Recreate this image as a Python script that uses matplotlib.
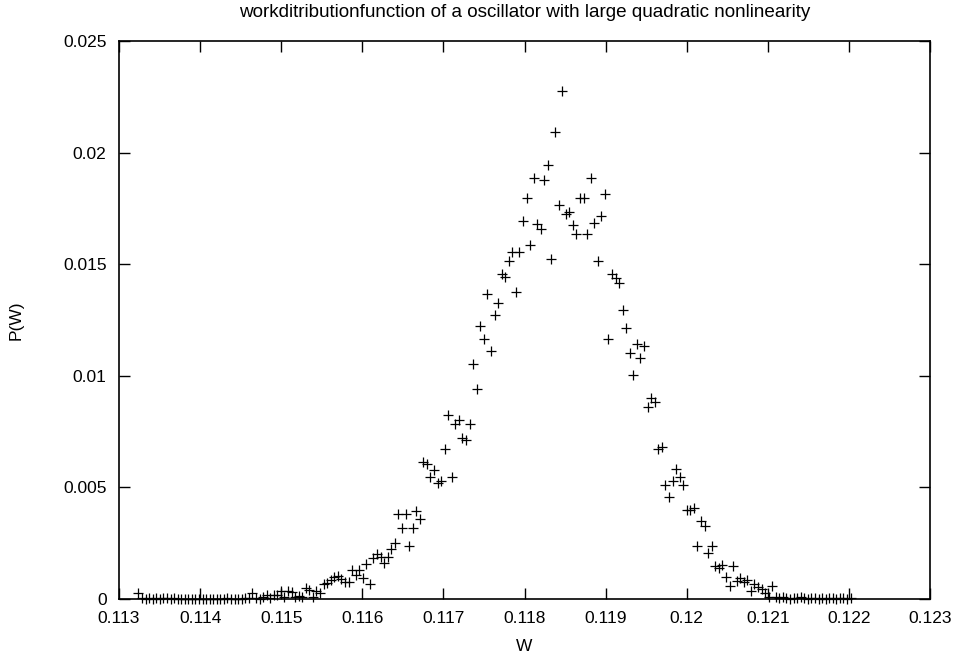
import numpy as np
import matplotlib
matplotlib.use("Agg")
import matplotlib.pyplot as plt
from matplotlib.ticker import MultipleLocator, FuncFormatter

# histogram of the work W: 201 equal bins from w_first to w_last
w_first = 0.11324
w_last = 0.12202
n_bins = 201

# P(W) per bin, left to right
p_left_tail = [0.00028, 0.00004, 0.0, 0.00004, 0.0, 0.00004, 0.0, 0.00004, 0.00004, 0.0,
               0.00004, 0.0, 0.0, 0.0, 0.0, 0.0, 0.0, 0.0, 0.0, 0.0,
               0.0, 0.0, 0.0, 0.0, 0.0, 0.00004, 0.0, 0.0, 0.0, 0.0,
               0.00004, 0.00004, 0.00026, 0.00004, 0.0, 0.00008, 0.0002, 0.00004, 0.0002, 0.0002,
               0.00035, 0.00009, 0.00035, 0.0003, 0.00009, 0.00013, 0.00009, 0.00048, 0.00042, 0.00009,
               0.00035]
p_core = [0.00028, 0.00065, 0.00073, 0.00085, 0.00097, 0.00103, 0.00088, 0.00078, 0.00078, 0.0013,
          0.00108, 0.0013, 0.00093, 0.00157, 0.00067, 0.00182, 0.00202, 0.0019, 0.0016, 0.0019,
          0.00223, 0.00249, 0.00381, 0.00319, 0.00381, 0.00239, 0.00319, 0.00394, 0.00358, 0.00612,
          0.00603, 0.00548, 0.00578, 0.00521, 0.0053, 0.00671, 0.00823, 0.00548, 0.00783, 0.00802,
          0.00723, 0.00712, 0.00783, 0.01052, 0.00942, 0.01223, 0.01164, 0.01365, 0.01113, 0.01272,
          0.01325, 0.01456, 0.01441, 0.01514, 0.01556, 0.01374, 0.01556, 0.01695, 0.01795, 0.01586,
          0.01885, 0.0168, 0.01656, 0.01877, 0.01944, 0.01523, 0.02094, 0.01765, 0.02276, 0.01724,
          0.01735, 0.01676, 0.01635, 0.01795, 0.01795, 0.01635, 0.01885, 0.01683, 0.01514, 0.01716,
          0.01814, 0.01164, 0.01456, 0.01437, 0.01414, 0.01293, 0.01213, 0.01101, 0.01002, 0.01142,
          0.01081, 0.01132, 0.00862, 0.00899, 0.00881, 0.00672, 0.0068, 0.00511, 0.00458, 0.0053,
          0.00581, 0.00545, 0.00511, 0.00399, 0.00399, 0.00406, 0.00239, 0.00351, 0.00327, 0.00207,
          0.00239, 0.00148, 0.00137, 0.00152, 0.001, 0.0006, 0.00148, 0.00082, 0.00093, 0.00078,
          0.00085, 0.00037, 0.00067, 0.00055, 0.00043, 0.00026]
p_right_tail = [0.00009, 0.0006, 0.00009, 0.00004, 0.0001, 0.00004, 0.0, 0.00004, 0.00004, 0.0001,
                0.00004, 0.0, 0.00004, 0.00004, 0.0, 0.00004, 0.0, 0.00004, 0.00004, 0.0,
                0.00004, 0.00004, 0.0, 0.00004]

P = np.array(p_left_tail + p_core + p_right_tail)
W = np.linspace(w_first, w_last, n_bins)[:len(P)]

plt.rcParams['font.family'] = ['Liberation Sans', 'DejaVu Sans']

fig = plt.figure(figsize=(9.59, 6.55), dpi=100)
ax = fig.add_axes([0.1241, 0.0855, 0.8457, 0.8519])

ax.plot(W, P, linestyle='none', marker='+', color='black',
        markersize=6.5, markeredgewidth=0.9, clip_on=False)

ax.set_xlim(0.113, 0.123)
ax.set_ylim(0, 0.025)
ax.xaxis.set_major_locator(MultipleLocator(0.001))
ax.yaxis.set_major_locator(MultipleLocator(0.005))
fmt = FuncFormatter(lambda v, pos: '%g' % round(v, 6))
ax.xaxis.set_major_formatter(fmt)
ax.yaxis.set_major_formatter(fmt)
ax.tick_params(direction='in', length=8, width=1, top=True, right=True,
               labelsize=12.5)
ax.tick_params(axis='y', pad=9)
ax.tick_params(axis='x', pad=8.5)
for s in ax.spines.values():
    s.set_linewidth(1.2)

ax.set_xlabel('W', fontsize=12.5)
ax.set_ylabel('P(W)', fontsize=12.5)
ax.xaxis.set_label_coords(0.5, -0.072)
ax.yaxis.set_label_coords(-0.117, 0.5)
ax.set_title('workditributionfunction of a oscillator with large quadratic nonlinearity',
             fontsize=13.6, pad=17)

fig.savefig('out.png', dpi=100)
